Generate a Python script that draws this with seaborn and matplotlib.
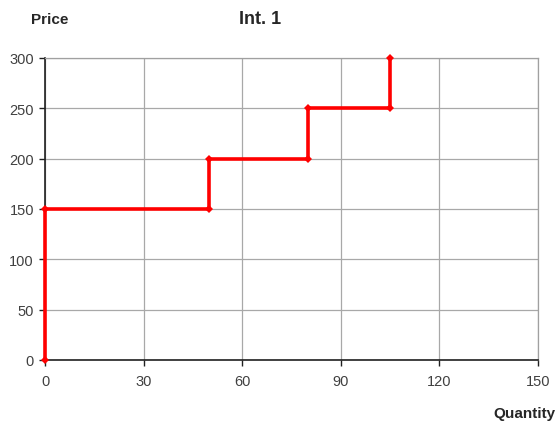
import matplotlib
matplotlib.use("Agg")
import matplotlib.pyplot as plt
import seaborn as sns
import pandas as pd

quantity = [0, 0, 50, 50, 80, 80, 105, 105]
price = [0, 150, 150, 200, 200, 250, 250, 300]
x_ticks = [0, 30, 60, 90, 120, 150]
y_ticks = [0, 50, 100, 150, 200, 250, 300]

df = pd.DataFrame({"Quantity": quantity, "Price": price})

sns.set_style("white")
plt.rcParams["font.family"] = ["Liberation Sans", "DejaVu Sans"]

fig = plt.figure(figsize=(5.59, 4.27), dpi=100)
ax = fig.add_axes([45/559, 1 - 361/427, (538 - 45)/559, (361 - 59)/427])

sns.lineplot(data=df, x="Quantity", y="Price", sort=False, estimator=None, errorbar=None,
             ax=ax, color="#ff0000", linewidth=2.6, marker="D", markersize=4.5,
             markeredgewidth=0, zorder=5, clip_on=False)

ax.set_xlim(0, 150)
ax.set_ylim(0, 300)
ax.set_xticks(x_ticks)
ax.set_yticks(y_ticks)
ax.grid(True, color="#a8a8a8", linewidth=0.9)
ax.set_axisbelow(True)
ax.set_xlabel("")
ax.set_ylabel("")
for s in ["top", "right"]:
    ax.spines[s].set_color("#a0a0a0")
    ax.spines[s].set_linewidth(0.9)
for s in ["left", "bottom"]:
    ax.spines[s].set_color("#202020")
    ax.spines[s].set_linewidth(1.2)
ax.tick_params(axis="both", which="both", bottom=True, left=True, length=4, width=1,
               color="#202020", labelsize=10.5, labelcolor="#404040", direction="out")
ax.tick_params(axis="x", pad=6)
ax.tick_params(axis="y", pad=4)

fig.text(50/559, 1 - 20/427, "Price", ha="center", va="center", fontsize=11, fontweight="bold")
fig.text(260/559, 1 - 19/427, "Int. 1", ha="center", va="center", fontsize=13, fontweight="bold")
fig.text(524/559, 1 - 414/427, "Quantity", ha="center", va="center", fontsize=11, fontweight="bold")

fig.savefig("out.png", dpi=100)
